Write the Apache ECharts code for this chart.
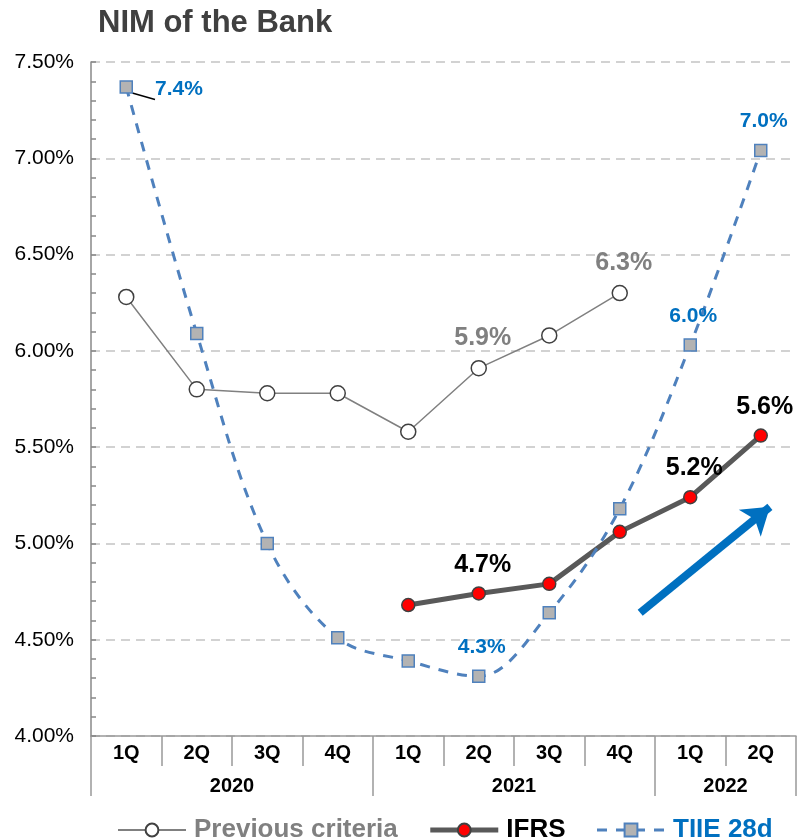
<!DOCTYPE html>
<html>
<head>
<meta charset="utf-8">
<title>NIM of the Bank</title>
<script src="https://cdn.jsdelivr.net/npm/echarts@6/dist/echarts.min.js"></script>
<style>
  html, body { margin: 0; padding: 0; background: #fff; }
  #nimChart { width: 798px; height: 840px; }
</style>
</head>
<body>
<div id="nimChart"></div>
<script>
// quarters and years (x axis)
const quarters = ['1Q', '2Q', '3Q', '4Q', '1Q', '2Q', '3Q', '4Q', '1Q', '2Q']
const years = ['2020', '2021', '2022']
const yearSpans = [4, 4, 2]

// NIM values in %
const previousCriteria = [6.28, 5.80, 5.78, 5.78, 5.58, 5.91, 6.08, 6.30, null, null]
const ifrs = [null, null, null, null, 4.68, 4.74, 4.79, 5.06, 5.24, 5.56]
const tiie28d = [7.37, 6.09, 5.00, 4.51, 4.39, 4.31, 4.64, 5.18, 6.03, 7.04]

// which points carry a value label
const previousLabels = [5, 7]
const ifrsLabels = [5, 8, 9]
const tiieLabels = [0, 5, 8, 9]

// trend arrow, in data space [position along quarters (0..10), value]
const arrowFrom = [7.79, 4.64]
const arrowTo = [9.63, 5.19]

const fontFamily = 'Liberation Sans, Arial, sans-serif'

// second axis: half slots so the year names sit in the middle of their span
const yearSlots = []
const yearTickIdx = [0]
const yearLabelIdx = {}
let pos = 0
years.forEach((y, i) => {
  yearLabelIdx[pos + yearSpans[i]] = y
  pos += yearSpans[i] * 2
  yearTickIdx.push(pos)
})
for (let i = 0; i <= pos; i++) yearSlots.push('s' + i)

function withLabels(values, idxList, labelOpt) {
  return values.map((v, i) => {
    if (idxList.indexOf(i) < 0 || v == null) return v
    return { value: v, label: Object.assign({ show: true }, labelOpt) }
  })
}

const tiieData = withLabels(tiie28d, tiieLabels, {})
tiieData[0] = {
  value: tiie28d[0],
  label: { show: true, position: 'right', distance: 22, offset: [0, 2] },
  labelLine: { show: true, lineStyle: { color: '#000', width: 1.5 } }
}

const chart = echarts.init(document.getElementById('nimChart'))

chart.setOption({
  animation: false,
  textStyle: { fontFamily: fontFamily },
  title: {
    text: 'NIM of the Bank',
    left: 93,
    top: 3,
    textStyle: { fontSize: 31, fontWeight: 'bold', color: '#404040', fontFamily: fontFamily }
  },
  grid: { left: 91, right: 2, top: 62, bottom: 104 },
  legend: {
    top: 812,
    left: 112,
    itemWidth: 68,
    itemHeight: 16,
    itemGap: 30,
    data: [
      { name: 'Previous criteria', textStyle: { color: '#808080' } },
      { name: 'IFRS', textStyle: { color: '#000' }, lineStyle: { width: 5 } },
      { name: 'TIIE 28d', textStyle: { color: '#0070C0' }, lineStyle: { width: 3 } }
    ],
    textStyle: { fontSize: 26, fontWeight: 'bold', fontFamily: fontFamily, padding: [0, 0, 0, 3] }
  },
  xAxis: [
    {
      type: 'category',
      data: quarters,
      axisLine: { lineStyle: { color: '#999', width: 1.5 } },
      axisTick: { show: true, interval: 0, length: 30, lineStyle: { color: '#999', width: 1.5 } },
      axisLabel: { interval: 0, margin: 7, fontSize: 20, fontWeight: 'bold', color: '#000' }
    },
    {
      type: 'category',
      position: 'bottom',
      offset: 30,
      boundaryGap: false,
      data: yearSlots,
      axisLine: { show: false },
      axisTick: {
        show: true,
        length: 30,
        interval: (idx) => yearTickIdx.indexOf(idx) >= 0,
        lineStyle: { color: '#999', width: 1.5 }
      },
      axisLabel: {
        interval: (idx) => yearLabelIdx[idx] !== undefined,
        formatter: (val, idx) => yearLabelIdx[idx] || '',
        margin: 10,
        fontSize: 20,
        fontWeight: 'bold',
        color: '#000'
      }
    },
    {
      // hidden helper axis for the trend arrow
      type: 'value',
      min: 0,
      max: 10,
      show: false
    }
  ],
  yAxis: {
    type: 'value',
    min: 4,
    max: 7.5,
    interval: 0.5,
    axisLine: { show: true, lineStyle: { color: '#888', width: 1.5 } },
    axisTick: { show: true, inside: true, length: 5, lineStyle: { color: '#888', width: 1.5 } },
    minorTick: { show: true, splitNumber: 5, length: 5, lineStyle: { color: '#888', width: 1.5 } },
    axisLabel: {
      formatter: (v) => v.toFixed(2) + '%',
      fontSize: 21,
      color: '#000',
      margin: 17
    },
    splitLine: { show: true, lineStyle: { color: '#c4c4c4', width: 1.5, type: [9, 6] } }
  },
  series: [
    {
      name: 'Previous criteria',
      type: 'line',
      data: withLabels(previousCriteria, previousLabels, {}),
      symbol: 'circle',
      symbolSize: 15,
      lineStyle: { color: '#808080', width: 1.5 },
      itemStyle: { color: '#fff', borderColor: '#404040', borderWidth: 1.5 },
      label: {
        position: 'top',
        distance: 9,
        offset: [4, 0],
        fontSize: 25,
        fontWeight: 'bold',
        color: '#808080',
        formatter: (p) => p.value.toFixed(1) + '%'
      }
    },
    {
      name: 'IFRS',
      type: 'line',
      data: withLabels(ifrs, ifrsLabels, {}),
      symbol: 'circle',
      symbolSize: 13,
      lineStyle: { color: '#595959', width: 5 },
      itemStyle: { color: '#ff0000', borderColor: '#404040', borderWidth: 1.5 },
      label: {
        position: 'top',
        distance: 9,
        offset: [4, 0],
        fontSize: 25,
        fontWeight: 'bold',
        color: '#000',
        formatter: (p) => p.value.toFixed(1) + '%'
      }
    },
    {
      name: 'TIIE 28d',
      type: 'line',
      data: tiieData,
      smooth: 0.35,
      symbol: 'rect',
      symbolSize: 12,
      lineStyle: { color: '#4F81BD', width: 3, type: [10, 9] },
      itemStyle: { color: '#b3b3b3', borderColor: '#4F81BD', borderWidth: 1.5 },
      label: {
        position: 'top',
        distance: 12,
        offset: [3, 0],
        fontSize: 21,
        fontWeight: 'bold',
        color: '#0070C0',
        formatter: (p) => p.value.toFixed(1) + '%'
      }
    },
    {
      type: 'lines',
      coordinateSystem: 'cartesian2d',
      xAxisIndex: 2,
      silent: true,
      symbol: ['none', 'arrow'],
      symbolSize: 26,
      lineStyle: { color: '#0070C0', width: 8, opacity: 1 },
      data: [{ coords: [arrowFrom, arrowTo] }]
    }
  ]
})
</script>
</body>
</html>
